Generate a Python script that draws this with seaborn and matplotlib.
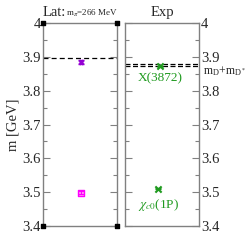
import matplotlib.pyplot as plt
from matplotlib.ticker import MultipleLocator
import seaborn as sns
import pandas as pd

# lattice results (m_pi = 266 MeV)
lat_names = ["X", "chi_c0"]
lat_mass = [3.885, 3.499]
lat_err = [0.006, 0.004]
lat_threshold = 3.897

# experiment
exp_names = ["X(3872)", "$\\chi_{c0}$(1P)"]
exp_mass = [3.8717, 3.5107]
exp_err = [0.002, 0.002]
exp_thresholds = [3.8794, 3.8717]

yticks = [3.4, 3.5, 3.6, 3.7, 3.8, 3.9, 4.0]
ytick_labels = ["3.4", "3.5", "3.6", "3.7", "3.8", "3.9", "4"]

sns.set_style("ticks")
plt.rcParams["font.family"] = "Liberation Serif"
plt.rcParams["mathtext.fontset"] = "stix"

spine_col = "#808080"
green = "#1f9a1f"

fig = plt.figure(figsize=(2.49, 2.40), dpi=100)
ax1 = fig.add_axes([0.173, 0.058, 0.297, 0.846])
ax2 = fig.add_axes([0.502, 0.058, 0.297, 0.846])

for ax in (ax1, ax2):
    ax.set_xlim(0, 1)
    ax.set_ylim(3.4, 4.0)
    ax.set_xticks([])
    ax.yaxis.set_minor_locator(MultipleLocator(0.05))
    ax.set_yticks(yticks)
    for s in ax.spines.values():
        s.set_color(spine_col)
        s.set_linewidth(1.0)
    ax.tick_params(axis="y", which="both", direction="in", left=True, right=True,
                   color=spine_col, width=0.8, labelsize=10.5, pad=1.5)
    ax.tick_params(axis="y", which="major", length=5)
    ax.tick_params(axis="y", which="minor", length=3)

ax1.set_yticklabels(ytick_labels)
ax2.tick_params(axis="y", labelleft=False, labelright=True)
ax2.set_yticklabels(ytick_labels)

# left panel: lattice
lat = pd.DataFrame({"x": [0.51, 0.51], "m": lat_mass, "name": lat_names})
ax1.axhline(lat_threshold, color="black", ls=(0, (4, 2.5)), lw=0.9)
ax1.errorbar(lat["x"][:1], lat["m"][:1], yerr=lat_err[:1], fmt="none",
             ecolor="#9400d3", elinewidth=1.0, capsize=2.5, capthick=1.0)
sns.scatterplot(data=lat.iloc[:1], x="x", y="m", marker="X", s=14,
                color="#9400d3", edgecolor="#9400d3", linewidth=0.5, ax=ax1, zorder=3)
sns.scatterplot(data=lat.iloc[1:], x="x", y="m", marker="s", s=22,
                color="#ff9cf0", edgecolor="#ff00ff", linewidth=1.0, ax=ax1, zorder=3)
ax1.errorbar(lat["x"][1:], lat["m"][1:], yerr=lat_err[1:], fmt="none",
             ecolor="#ff00ff", elinewidth=0.8, capsize=2.5, capthick=0.8, zorder=4)
# corner squares
ax1.scatter([0, 1, 0, 1], [3.4, 3.4, 4.0, 4.0], marker="s", s=8, color="black",
            clip_on=False, zorder=5)

# right panel: experiment
for th in exp_thresholds:
    ax2.axhline(th, color="black", ls=(0, (4, 2)), lw=0.9)
exp = pd.DataFrame({"x": [0.47, 0.45], "m": exp_mass, "name": exp_names})
ax2.errorbar(exp["x"], exp["m"], yerr=exp_err, fmt="none", ecolor=green,
             elinewidth=1.0, capsize=2.5, capthick=1.0, zorder=4)
sns.scatterplot(data=exp, x="x", y="m", marker="x", s=20, color=green,
                linewidth=1.5, ax=ax2, zorder=4)
ax2.text(0.47, 3.838, "X(3872)", color=green, fontsize=9.5, ha="center", va="center")
ax2.text(0.45, 3.463, "$\\chi_{c0}$(1P)", color=green, fontsize=9.5, ha="center", va="center")
ax2.text(1.05, 3.858, "m$_\\mathregular{D}$+m$_{\\mathregular{D^*}}$", fontsize=8.5,
         ha="left", va="center", transform=ax2.get_yaxis_transform())

for ax in (ax1, ax2):
    ax.set_xlabel("")
    ax.set_ylabel("")

ax1.set_ylabel("m [GeV]", fontsize=10.5, labelpad=2)

# titles
fig.text(43 / 249, 1 - 16 / 240, "Lat:", fontsize=10.5, ha="left", va="baseline")
fig.text(66 / 249, 1 - 16 / 240, "m$_\\pi$=266 MeV", fontsize=6.5, ha="left", va="baseline")
fig.text(162 / 249, 1 - 16 / 240, "Exp", fontsize=10.5, ha="center", va="baseline")

plt.savefig("out.png", dpi=100)
